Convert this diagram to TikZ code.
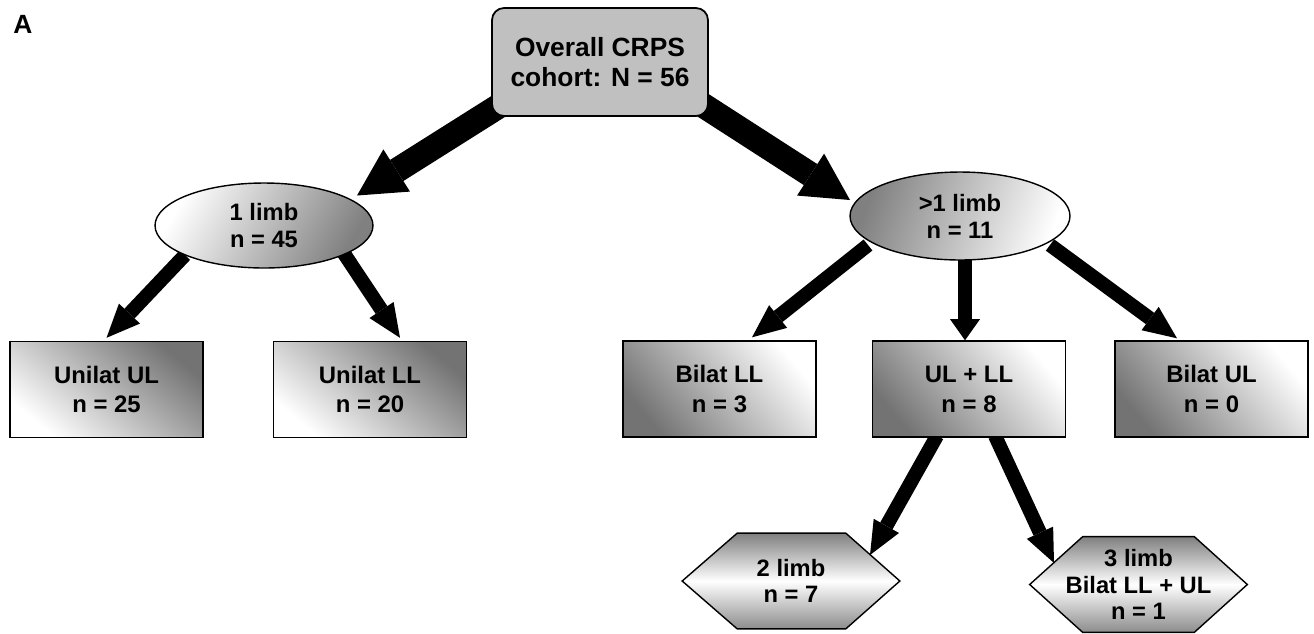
\documentclass[tikz,border=0pt]{standalone}
\usepackage{fontspec}
\setmainfont{Liberation Sans}
\usetikzlibrary{shapes.geometric,arrows.meta,calc}
\pgfdeclarelayer{back}
\pgfsetlayers{back,main}
\definecolor{boxgray}{RGB}{192,192,192}
\tikzset{
  topbox/.style={draw, line width=1pt, fill=boxgray, rounded corners=0.24cm,
    minimum width=4.32cm, minimum height=2.16cm, inner sep=0pt,
    font=\bfseries\fontsize{15pt}{17pt}\selectfont, align=center},
  ell/.style={ellipse, draw, line width=0.8pt, inner sep=0pt, align=center,
    font=\bfseries\fontsize{13.5pt}{15.3pt}\selectfont},
  shadeL/.style={top color=white, bottom color=black!50, shading angle=60},
  shadeR/.style={top color=black!50, bottom color=white, shading angle=70},
  leafbox/.style={rectangle, draw, line width=0.8pt, inner sep=0pt, align=center,
    minimum width=3.86cm, minimum height=1.92cm,
    font=\bfseries\fontsize{13.6pt}{17pt}\selectfont},
  shadeU/.style={top color=black!55, bottom color=white, shading angle=-40},
  shadeB/.style={top color=white, bottom color=black!55, shading angle=-50},
  hexnode/.style={rectangle, draw=none, inner sep=0pt, align=center,
    font=\bfseries\fontsize{13.5pt}{15pt}\selectfont},
  hexshade/.style={draw, line width=0.8pt, top color=black!50, bottom color=black!45, middle color=white},
  bigarrow/.style={line width=14.2pt, -{Triangle[length=26.7pt, width=28.4pt, line width=0pt]}},
  midarrow/.style={line width=8pt, -{Triangle[length=19pt, width=16.5pt, line width=0pt]}},
  shortarrow/.style={line width=8.5pt, -{Triangle[length=12pt, width=17pt, line width=0pt]}},
}
\begin{document}
\begin{tikzpicture}[x=0.02cm, y=-0.02cm]
\useasboundingbox (0,0) rectangle (1314,633);

\node[anchor=base west, inner sep=0pt, font=\bfseries\fontsize{15pt}{17pt}\selectfont] (lblA) at (13,33) {A};

\node[topbox] (top) at (600,62) {Overall CRPS\\cohort: N = 56};

\node[ell, shadeL, minimum width=4.36cm, minimum height=1.7cm] (e1) at (264,225.5) {1 limb\\n = 45};
\node[ell, shadeR, minimum width=4.4cm, minimum height=1.76cm] (e2) at (960,216) {>1 limb\\n = 11};

\node[leafbox, shadeU] (uul) at (106.5,389.5) {Unilat UL\\n = 25};
\node[leafbox, shadeU] (ull) at (370,389.5) {Unilat LL\\n = 20};
\node[leafbox, shadeB] (bll) at (719.5,389) {Bilat LL\\n = 3};
\node[leafbox, shadeB] (ulll) at (969,389) {UL + LL\\n = 8};
\node[leafbox, shadeB] (bul) at (1211.5,389) {Bilat UL\\n = 0};

\node[hexnode, minimum width=4.34cm, minimum height=1.9cm] (h2) at (791,581) {2 limb\\n = 7};
\node[hexnode, minimum width=4.34cm, minimum height=1.9cm] (h3) at (1138.5,584.5) {3 limb\\Bilat LL + UL\\n = 1};

\begin{pgfonlayer}{back}
\path[hexshade] (h2.west) -- ($(h2.north west)+(55,0)$) -- ($(h2.north east)+(-54,0)$)
  -- (h2.east) -- ($(h2.south east)+(-54,0)$) -- ($(h2.south west)+(55,0)$) -- cycle;
\path[hexshade] (h3.west) -- ($(h3.north west)+(53,0)$) -- ($(h3.north east)+(-53,0)$)
  -- (h3.east) -- ($(h3.south east)+(-53,0)$) -- ($(h3.south west)+(53,0)$) -- cycle;

\draw[bigarrow] ($(top.south west)+(8,-11)$) -- ($(e1)+(93,-30)$);
\draw[bigarrow] ($(top.south east)+(-8,-13)$) -- ($(e2)+(-110,-16)$);

\draw[midarrow] ($(e1)+(-79,29.5)$) -- ($(uul.north)+(0,-3)$);
\draw[midarrow] ($(e1)+(79,26.5)$) -- ($(ull.north)+(30,-3)$);

\draw[midarrow] ($(e2)+(-92,29)$) -- ($(bll.north)+(32.5,-3)$);
\draw[shortarrow] ($(e2)+(5,38)$) -- ($(ulll.north)+(-4,0)$);
\draw[midarrow] ($(e2)+(90,29)$) -- ($(bul.north)+(-34.5,-2)$);

\draw[midarrow] ($(ulll.south)+(-32,-2)$) -- ($(h2)+(79,-26)$);
\draw[midarrow] ($(ulll.south)+(26,-2)$) -- ($(h3)+(-84.5,-21.5)$);
\end{pgfonlayer}
\end{tikzpicture}
\end{document}
